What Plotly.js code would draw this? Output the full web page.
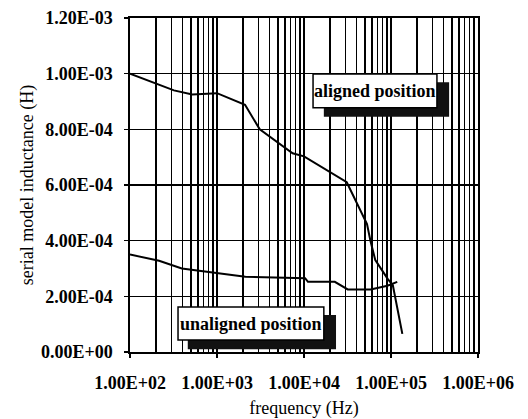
<!DOCTYPE html>
<html>
<head>
<meta charset="utf-8">
<script src="https://cdn.plot.ly/plotly-3.0.1.min.js"></script>
<style>
html,body{margin:0;padding:0;background:#fff;}
#chart{width:528px;height:419px;}
</style>
</head>
<body>
<div id="chart"></div>
<script>
// ---- data ----
const alignedFreq = [100, 320, 520, 1000, 2100, 3100, 7400, 10000, 31000, 46000, 53000, 58000, 66000, 92000, 105000, 135000];
const alignedL    = [1.0e-3, 9.4e-4, 9.25e-4, 9.3e-4, 8.88e-4, 8.0e-4, 7.14e-4, 7.03e-4, 6.1e-4, 5.0e-4, 4.6e-4, 4.0e-4, 3.3e-4, 2.62e-4, 2.4e-4, 6.5e-5];

const unalignedFreq = [100, 216, 394, 1040, 2120, 10300, 11100, 22600, 31800, 58300, 91000, 118000];
const unalignedL    = [3.5e-4, 3.28e-4, 3.0e-4, 2.82e-4, 2.7e-4, 2.65e-4, 2.52e-4, 2.52e-4, 2.25e-4, 2.25e-4, 2.38e-4, 2.52e-4];

const xTickVals = [1e2, 1e3, 1e4, 1e5, 1e6];
const xTickText = ['1.00E+02', '1.00E+03', '1.00E+04', '1.00E+05', '1.00E+06'];
const yTickVals = [0, 2e-4, 4e-4, 6e-4, 8e-4, 1e-3, 1.2e-3];
const yTickText = ['0.00E+00', '2.00E-04', '4.00E-04', '6.00E-04', '8.00E-04', '1.00E-03', '1.20E-03'];

const seriesNames = ['aligned position', 'unaligned position'];
const xTitle = 'frequency (Hz)';
const yTitle = 'serial model inductance (H)';

const FONT = 'Liberation Serif, Times New Roman, serif';

const traces = [
  {x: alignedFreq, y: alignedL, mode: 'lines', name: seriesNames[0],
   line: {color: '#000', width: 2}},
  {x: unalignedFreq, y: unalignedL, mode: 'lines', name: seriesNames[1],
   line: {color: '#000', width: 2}}
];

const tickFont = {family: FONT, size: 18, color: '#000', weight: 'bold'};

const layout = {
  width: 528, height: 419,
  margin: {l: 130, r: 50, t: 18, b: 67},
  paper_bgcolor: '#fff', plot_bgcolor: '#fff',
  showlegend: false,
  font: {family: FONT, color: '#000'},
  xaxis: {
    type: 'log', range: [2, 6],
    tickmode: 'array', tickvals: xTickVals, ticktext: xTickText,
    tickfont: tickFont,
    ticks: 'outside', ticklen: 4, tickcolor: '#000', tickwidth: 1.5,
    ticklabelstandoff: 10,
    showgrid: true, gridcolor: '#000', gridwidth: 1.6,
    minor: {dtick: 'D1', showgrid: true, gridcolor: '#000', gridwidth: 1.6, ticks: ''},
    showline: true, linecolor: '#000', linewidth: 1.6, mirror: true,
    zeroline: false,
    title: {text: xTitle, font: {family: FONT, size: 18, color: '#000'}, standoff: 10},
    automargin: false
  },
  yaxis: {
    range: [0, 1.2e-3],
    tickmode: 'array', tickvals: yTickVals, ticktext: yTickText,
    tickfont: tickFont,
    ticks: 'outside', ticklen: 4, tickcolor: '#000', tickwidth: 1.5,
    ticklabelstandoff: 8,
    showgrid: true, gridcolor: '#000', gridwidth: 1.6,
    showline: true, linecolor: '#000', linewidth: 1.6, mirror: true,
    zeroline: false,
    title: {text: yTitle, font: {family: FONT, size: 18, color: '#000'}, standoff: 3},
    automargin: false
  },
  shapes: [
    // aligned label shadow + box
    {type: 'rect', xref: 'paper', yref: 'paper', x0: 0.557, x1: 0.917, y0: 0.704, y1: 0.808,
     fillcolor: '#111', line: {width: 0}, layer: 'above'},
    {type: 'rect', xref: 'paper', yref: 'paper', x0: 0.526, x1: 0.882, y0: 0.731, y1: 0.832,
     fillcolor: '#fff', line: {color: '#000', width: 1.5}, layer: 'above'},
    // unaligned label shadow + box
    {type: 'rect', xref: 'paper', yref: 'paper', x0: 0.166, x1: 0.592, y0: 0.008, y1: 0.111,
     fillcolor: '#111', line: {width: 0}, layer: 'above'},
    {type: 'rect', xref: 'paper', yref: 'paper', x0: 0.138, x1: 0.557, y0: 0.036, y1: 0.135,
     fillcolor: '#fff', line: {color: '#000', width: 1.5}, layer: 'above'}
  ],
  annotations: [
    {xref: 'paper', yref: 'paper', x: 0.704, y: 0.781, text: seriesNames[0], showarrow: false,
     font: {family: FONT, size: 18, color: '#000', weight: 'bold'}, xanchor: 'center', yanchor: 'middle'},
    {xref: 'paper', yref: 'paper', x: 0.348, y: 0.085, text: seriesNames[1], showarrow: false,
     font: {family: FONT, size: 18, color: '#000', weight: 'bold'}, xanchor: 'center', yanchor: 'middle'}
  ]
};

Plotly.newPlot('chart', traces, layout, {displayModeBar: false, staticPlot: true});
</script>
</body>
</html>
